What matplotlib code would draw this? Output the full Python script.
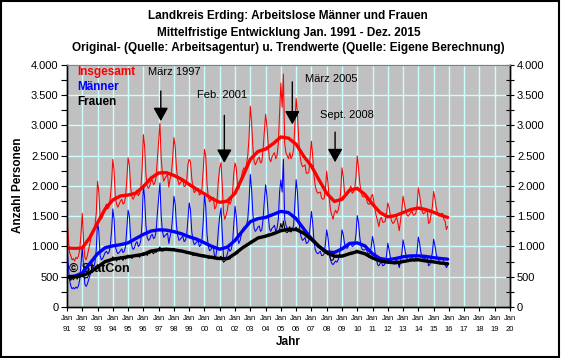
import numpy as np
import matplotlib
matplotlib.use("Agg")
import matplotlib.pyplot as plt
from matplotlib.patches import Rectangle
from matplotlib.ticker import FuncFormatter, MultipleLocator

plt.rcParams['font.family'] = ['Liberation Sans', 'DejaVu Sans']

# ---------------- data (monthly, Jan 1991 - Dec 2015) ----------------
insgesamt_raw = [
    1530, 1150, 900, 850, 780, 800, 760, 820, 800, 840, 950, 1200,      # 1991
    1550, 1100, 820, 780, 850, 950, 1050, 1150, 1200, 1250, 1350, 1550,  # 1992
    2080, 1900, 1500, 1450, 1500, 1580, 1650, 1700, 1620, 1650, 1800, 2050,
    2440, 2250, 1800, 1700, 1650, 1700, 1750, 1780, 1700, 1720, 1820, 2100,
    2465, 2350, 1980, 1820, 1780, 1830, 1900, 1930, 1840, 1870, 1960, 2280,
    2850, 2650, 2200, 2000, 1960, 2000, 2080, 2100, 2020, 2050, 2150, 2450,
    2750, 3035, 2450, 2200, 2080, 2130, 2160, 2190, 1980, 2120, 2200, 2460,
    2800, 2650, 2290, 2110, 2020, 2050, 2080, 2110, 1990, 2000, 2080, 2360,
    2440, 2400, 2130, 1970, 1890, 1920, 1960, 1960, 1850, 1870, 1950, 2260,
    2605, 2500, 2030, 1820, 1740, 1770, 1810, 1810, 1620, 1650, 1800, 2110,
    2300, 2385, 2000, 1550, 1450, 1520, 1600, 1770, 1700, 1750, 1880, 2200,
    2380, 2300, 2000, 1950, 2050, 2150, 2250, 2300, 2280, 2350, 2500, 2800,
    3320, 3050, 2650, 2400, 2350, 2400, 2450, 2480, 2380, 2400, 2600, 2900,
    3185, 3000, 2700, 2450, 2400, 2480, 2520, 2550, 2450, 2500, 2700, 3200,
    3700, 3300, 3850, 2700, 2550, 2500, 2450, 2550, 2450, 2500, 2600, 3000,
    3450, 3200, 2780, 2500, 2380, 2320, 2330, 2350, 2210, 2210, 2230, 2480,
    2740, 2500, 2180, 2000, 1920, 1880, 1890, 1900, 1800, 1780, 1790, 1950,
    2245, 2050, 1800, 1600, 1520, 1450, 1550, 1600, 1550, 1600, 1700, 1900,
    2300, 2150, 1900, 1850, 1850, 1900, 1950, 2000, 1880, 1900, 1950, 2150,
    2495, 2300, 2050, 1900, 1830, 1820, 1820, 1810, 1720, 1700, 1700, 1830,
    1860, 1750, 1600, 1500, 1420, 1330, 1450, 1480, 1400, 1400, 1420, 1550,
    1720, 1650, 1500, 1420, 1380, 1400, 1450, 1480, 1380, 1260, 1430, 1600,
    1830, 1720, 1600, 1520, 1500, 1530, 1560, 1580, 1520, 1520, 1550, 1680,
    1970, 1850, 1700, 1580, 1540, 1560, 1580, 1600, 1380, 1400, 1530, 1660,
    1910, 1800, 1650, 1550, 1500, 1520, 1540, 1550, 1450, 1420, 1280, 1330,  # 2015
]

maenner_raw = [
    1000, 700, 450, 350, 300, 320, 300, 330, 310, 350, 450, 700,
    1000, 650, 380, 340, 380, 450, 520, 600, 620, 660, 740, 950,
    1420, 1250, 850, 780, 800, 850, 900, 920, 880, 900, 1000, 1250,
    1620, 1450, 1000, 920, 880, 900, 930, 960, 900, 920, 1000, 1300,
    1600, 1500, 1150, 1000, 950, 980, 1050, 1080, 1000, 1020, 1100, 1400,
    2020, 1800, 1350, 1150, 1100, 1120, 1180, 1200, 1130, 1150, 1250, 1550,
    1800, 2050, 1500, 1250, 1150, 1180, 1200, 1220, 1050, 1170, 1250, 1500,
    1830, 1700, 1350, 1180, 1100, 1120, 1150, 1170, 1080, 1100, 1180, 1450,
    1720, 1600, 1250, 1100, 1030, 1050, 1080, 1090, 1000, 1020, 1100, 1400,
    1860, 1650, 1200, 1000, 930, 950, 980, 990, 820, 850, 1000, 1300,
    1500, 1635, 1200, 820, 790, 820, 880, 980, 920, 950, 1050, 1350,
    1665, 1500, 1150, 1050, 1100, 1200, 1280, 1320, 1300, 1350, 1450, 1750,
    2190, 1950, 1550, 1300, 1250, 1280, 1320, 1340, 1250, 1270, 1450, 1750,
    2020, 1850, 1550, 1300, 1250, 1300, 1320, 1350, 1250, 1300, 1450, 1900,
    2100, 1900, 2440, 1450, 1350, 1300, 1250, 1330, 1250, 1280, 1350, 1700,
    2105, 1900, 1500, 1250, 1150, 1100, 1120, 1150, 1050, 1060, 1100, 1350,
    1580, 1400, 1100, 950, 900, 880, 900, 920, 850, 850, 880, 1050,
    1275, 1150, 950, 780, 720, 700, 730, 760, 740, 780, 850, 1000,
    1275, 1200, 1050, 980, 970, 1000, 1040, 1060, 1000, 1010, 1040, 1200,
    1510, 1400, 1150, 1000, 950, 940, 950, 960, 900, 880, 880, 1000,
    1165, 1050, 900, 800, 700, 680, 720, 740, 680, 690, 730, 850,
    1055, 950, 820, 760, 730, 740, 760, 780, 740, 650, 760, 880,
    1110, 1000, 880, 800, 780, 790, 810, 820, 780, 780, 800, 920,
    1155, 1050, 900, 820, 790, 800, 810, 820, 680, 700, 790, 900,
    1120, 1020, 880, 800, 770, 780, 790, 800, 750, 720, 650, 680,
]

frauen_raw = [
    530, 470, 500, 440, 480, 450, 480, 500, 460, 500, 480, 520,
    540, 500, 470, 490, 480, 530, 550, 590, 570, 610, 620, 650,
    700, 660, 700, 680, 730, 720, 770, 740, 760, 740, 790, 790,
    830, 790, 810, 760, 800, 780, 830, 800, 770, 820, 790, 840,
    860, 820, 850, 800, 840, 830, 870, 830, 850, 820, 870, 880,
    900, 860, 890, 850, 890, 880, 920, 900, 880, 920, 900, 940,
    960, 990, 940, 920, 940, 930, 970, 950, 930, 960, 940, 960,
    970, 930, 950, 910, 930, 910, 940, 920, 900, 910, 880, 910,
    910, 880, 890, 850, 870, 850, 890, 860, 840, 860, 830, 860,
    860, 830, 840, 800, 820, 800, 840, 810, 790, 810, 780, 810,
    820, 840, 790, 740, 760, 780, 810, 800, 790, 830, 830, 860,
    860, 890, 880, 930, 940, 980, 980, 1010, 1000, 1040, 1040, 1060,
    1080, 1100, 1080, 1120, 1110, 1140, 1140, 1170, 1130, 1160, 1150, 1170,
    1190, 1170, 1210, 1180, 1210, 1200, 1230, 1220, 1210, 1250, 1240, 1280,
    1380, 1300, 1420, 1290, 1240, 1230, 1260, 1250, 1240, 1270, 1260, 1290,
    1320, 1280, 1290, 1250, 1240, 1210, 1220, 1190, 1170, 1150, 1140, 1120,
    1140, 1110, 1090, 1040, 1030, 990, 1000, 970, 960, 920, 920, 890,
    890, 860, 870, 790, 770, 780, 830, 830, 820, 840, 830, 860,
    850, 870, 840, 870, 860, 890, 880, 910, 870, 910, 900, 930,
    940, 910, 920, 890, 900, 870, 880, 850, 850, 820, 830, 810,
    830, 800, 810, 770, 780, 750, 770, 750, 750, 730, 750, 740,
    770, 740, 750, 720, 730, 710, 740, 730, 730, 690, 740, 730,
    780, 760, 770, 750, 770, 760, 790, 780, 780, 760, 790, 780,
    800, 780, 790, 760, 770, 750, 780, 760, 760, 740, 760, 750,
    760, 740, 750, 720, 730, 710, 740, 720, 720, 690, 700, 690,
]

# trend values at half-year points (Jan/Jul 1991 ... Jul 2015, Dec 2015)
trend_t = [1991.0, 1991.5, 1992.0, 1992.5, 1993.0, 1993.5, 1994.0, 1994.5, 1995.0, 1995.5,
           1996.0, 1996.5, 1997.0, 1997.5, 1998.0, 1998.5, 1999.0, 1999.5, 2000.0, 2000.5,
           2001.0, 2001.5, 2002.0, 2002.5, 2003.0, 2003.5, 2004.0, 2004.5, 2005.0, 2005.5,
           2006.0, 2006.5, 2007.0, 2007.5, 2008.0, 2008.5, 2009.0, 2009.5, 2010.0, 2010.5,
           2011.0, 2011.5, 2012.0, 2012.5, 2013.0, 2013.5, 2014.0, 2014.5, 2015.0, 2015.5,
           2015.917]
insgesamt_trend = [975, 970, 975, 1150, 1390, 1620, 1770, 1835, 1850, 1880,
                   1990, 2130, 2215, 2220, 2175, 2110, 2025, 1945, 1870, 1790,
                   1730, 1750, 1880, 2150, 2440, 2570, 2610, 2700, 2810, 2790,
                   2690, 2490, 2330, 2100, 1880, 1745, 1780, 1930, 1960, 1860,
                   1700, 1560, 1490, 1510, 1560, 1610, 1635, 1610, 1565, 1515,
                   1480]
maenner_trend = [500, 510, 560, 720, 880, 980, 1010, 1030, 1060, 1130,
                 1200, 1255, 1275, 1270, 1245, 1210, 1160, 1120, 1060, 1000,
                 955, 990, 1100, 1260, 1410, 1460, 1480, 1530, 1580, 1560,
                 1460, 1290, 1130, 1000, 910, 900, 960, 1050, 1060, 1010,
                 880, 800, 780, 800, 830, 845, 845, 835, 815, 800,
                 790]
frauen_trend = [490, 500, 520, 570, 660, 750, 790, 810, 830, 850,
                870, 925, 945, 955, 945, 925, 895, 865, 840, 820,
                800, 800, 880, 980, 1060, 1140, 1170, 1210, 1260, 1285,
                1280, 1220, 1120, 1000, 900, 840, 840, 880, 915, 880,
                810, 760, 740, 730, 750, 775, 780, 760, 745, 725,
                715]

tick_years = list(range(1991, 2021))
tick_labels = [f"Jan\n{y % 100:02d}" for y in tick_years]

legend_names = ["Insgesamt", "Männer", "Frauen"]
colors = ["#ff0000", "#0000ff", "#000000"]

events = ["März 1997", "Feb. 2001", "März 2005", "Sept. 2008"]
event_x = [1997.14, 2001.30, 2005.75, 2008.55]
event_tail = [3570, 3167, 3720, 2890]
event_tip = [3073, 2383, 3018, 2393]
event_text_pos = [(0.243, 0.970), (0.351, 0.876), (0.596, 0.942), (0.631, 0.793)]

# ---------------- figure ----------------
t = 1991 + np.arange(len(insgesamt_raw)) / 12.0

fig = plt.figure(figsize=(5.61, 3.58), dpi=100)
fig.patch.set_facecolor('white')
ax = fig.add_axes([0.1194, 0.1425, 0.7897, 0.6760])
ax.set_facecolor('#c0c0c0')
ax.set_xlim(1991, 2020)
ax.set_ylim(0, 4000)

ax.set_xticks(tick_years)
ax.set_xticklabels(tick_labels, fontsize=5.5, linespacing=1.75)
ax.set_yticks(range(0, 4001, 500))
ax.yaxis.set_minor_locator(MultipleLocator(250))
fmt = FuncFormatter(lambda v, p: f"{int(v):,}".replace(",", "."))
ax.yaxis.set_major_formatter(fmt)
ax.grid(True, which='major', color='#ccffff', lw=1.0, zorder=0)
ax.set_axisbelow(True)
ax.tick_params(axis='y', which='both', direction='out', length=4, width=0.8, labelsize=8, pad=2)
ax.tick_params(axis='x', direction='out', length=3, width=0.8, pad=3)

ax2 = ax.twinx()
ax2.set_ylim(0, 4000)
ax2.set_yticks(range(0, 4001, 500))
ax2.yaxis.set_minor_locator(MultipleLocator(250))
ax2.yaxis.set_major_formatter(fmt)
ax2.tick_params(axis='y', which='both', direction='inout', length=6, width=0.8, labelsize=8, pad=2)

for a in (ax, ax2):
    a.spines['top'].set_color('#808080')
    for s in ('left', 'right', 'bottom'):
        a.spines[s].set_color('black')
        a.spines[s].set_linewidth(1.0)

# copyright text below lines
ax.text(0.005, 0.157, "© StatCon", transform=ax.transAxes, fontsize=9,
        fontweight='bold', ha='left', va='center', zorder=1)

# raw series
ax.plot(t, insgesamt_raw, color=colors[0], lw=0.75, zorder=3)
ax.plot(t, maenner_raw, color=colors[1], lw=0.75, zorder=3)
ax.plot(t, frauen_raw, color=colors[2], lw=0.75, zorder=3)
# trends
ax.plot(trend_t, insgesamt_trend, color=colors[0], lw=2.4, zorder=4, solid_capstyle='round')
ax.plot(trend_t, maenner_trend, color=colors[1], lw=2.4, zorder=4, solid_capstyle='round')
ax.plot(trend_t, frauen_trend, color=colors[2], lw=2.4, zorder=4, solid_capstyle='round')

# legend texts
for name, c, yy in zip(legend_names, colors, [0.971, 0.908, 0.848]):
    ax.text(0.0226, yy, name, color=c, transform=ax.transAxes, fontsize=8.5,
            fontweight='bold', ha='left', va='center', zorder=5)

# event annotations
for lab, x, tail, tip, (tx, ty) in zip(events, event_x, event_tail, event_tip, event_text_pos):
    ax.annotate('', xy=(x, tip), xytext=(x, tail),
                arrowprops=dict(arrowstyle='-|>,head_length=0.9,head_width=0.5',
                                color='black', lw=1.0, mutation_scale=9, shrinkA=0, shrinkB=0),
                zorder=6)
    ax.text(tx, ty, lab, transform=ax.transAxes, fontsize=8, ha='center', va='center', zorder=6)

# titles
fig.text(0.514, 0.955, "Landkreis Erding: Arbeitslose Männer und Frauen", ha='center', va='center',
         fontsize=8.5, fontweight='bold')
fig.text(0.514, 0.908, "Mittelfristige Entwicklung Jan. 1991 - Dez. 2015", ha='center', va='center',
         fontsize=8.5, fontweight='bold')
fig.text(0.514, 0.866, "Original- (Quelle: Arbeitsagentur) u. Trendwerte (Quelle: Eigene Berechnung)",
         ha='center', va='center', fontsize=8.5, fontweight='bold')
fig.text(0.032, 0.483, "Anzahl Personen", rotation=90, ha='center', va='center',
         fontsize=8.5, fontweight='bold')
fig.text(0.514, 0.045, "Jahr", ha='center', va='center', fontsize=8.5, fontweight='bold')

fig.patches.append(Rectangle((0.002, 0.003), 0.994, 0.994, transform=fig.transFigure,
                             fill=False, edgecolor='black', linewidth=1.5))

fig.savefig("out.png", dpi=100)
